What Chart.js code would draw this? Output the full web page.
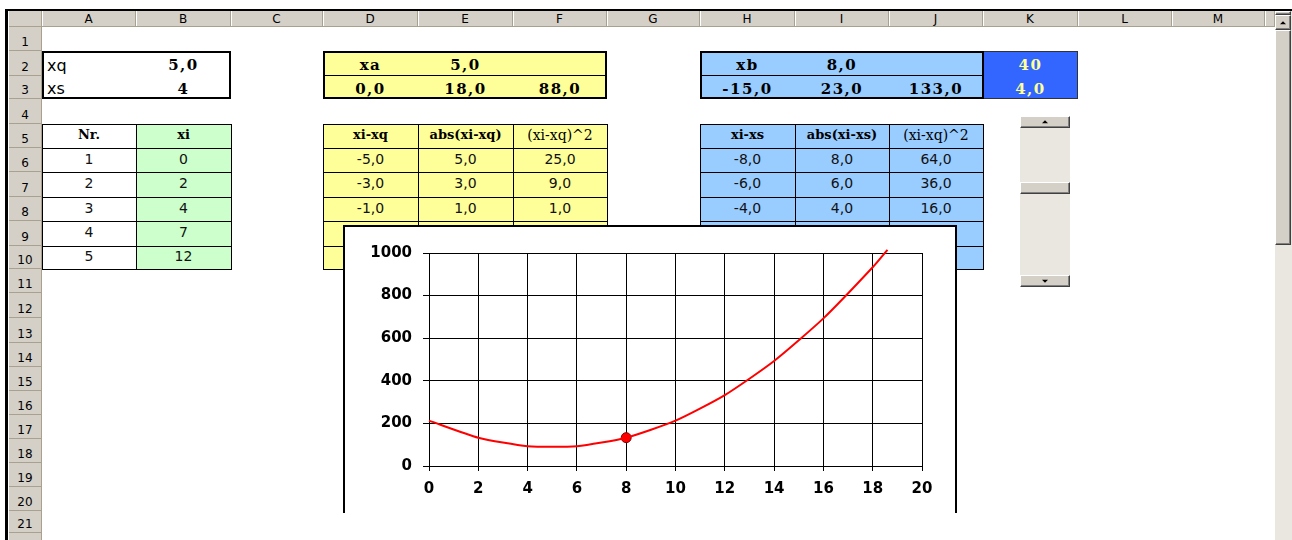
<!DOCTYPE html>
<html>
<head>
<meta charset="utf-8">
<title>xq / xs</title>
<script src="https://cdn.jsdelivr.net/npm/chart.js@4"></script>
<style>
  html, body { margin: 0; padding: 0; background: #fff; }
  body { width: 1292px; height: 540px; overflow: hidden; position: relative; }
  .abs { position: absolute; box-sizing: border-box; }
  .t { display: flex; align-items: center; justify-content: center; white-space: nowrap; color: #000; }
  .hd { background: #D4D0C8; font: 12px 'DejaVu Sans', sans-serif; color: #000; }
  .bs { font: bold 15px 'DejaVu Serif', serif; letter-spacing: 1.5px; padding-top: 3px; }
  .hs { font: bold 13px 'DejaVu Serif', serif; padding-bottom: 3px; }
  .rs { font: 14px 'DejaVu Serif', serif; padding-bottom: 3px; }
  .n  { font: 14px 'DejaVu Sans', sans-serif; color: #111; padding-bottom: 3px; }
  .raised { background: #D4D0C8; border-top: 1px solid #fff; border-left: 1px solid #fff;
            border-right: 1px solid #404040; border-bottom: 1px solid #404040;
            box-shadow: inset -1px -1px #808080; }
  .up, .down { position: absolute; left: 50%; top: 50%; width: 0; height: 0;
               border-left: 3px solid transparent; border-right: 3px solid transparent; }
  .up { border-bottom: 3px solid #000; transform: translate(-50%, -60%); }
  .down { border-top: 3px solid #000; transform: translate(-50%, -40%); }
</style>
</head>
<body>
<div id="sheet"></div>
<script>
// chart values
const xTicks = [0, 2, 4, 6, 8, 10, 12, 14, 16, 18, 20];
const yTicks = [0, 200, 400, 600, 800, 1000];
const sumX = [0, 2, 4, 6, 8, 10, 12, 14, 16, 18, 18.6];
const sumY = [213, 133, 93, 93, 133, 213, 333, 493, 693, 933, 1015];
const pickX = [8];
const pickY = [133];

// sheet grid
const colX = [42, 136, 231, 323, 418, 513, 607, 700, 795, 889, 983, 1078, 1172, 1265, 1275];
const rowY = [27, 51, 76, 99, 124, 148, 172, 197, 221, 246, 269, 293, 318, 343, 367, 391, 415, 439, 463, 487, 511, 533, 560];
const colNames = ['A', 'B', 'C', 'D', 'E', 'F', 'G', 'H', 'I', 'J', 'K', 'L', 'M', ''];

const sheet = document.getElementById('sheet');

function el(x, y, w, h, css, txt, cls) {
    const d = document.createElement('div');
    d.className = 'abs' + (cls ? ' ' + cls : '');
    d.style.cssText = 'left:' + x + 'px;top:' + y + 'px;width:' + w + 'px;height:' + h + 'px;' + (css || '');
    if (txt !== undefined) d.textContent = txt;
    sheet.appendChild(d);
    return d;
}

// text in cell (c, r), c = 0 for column A, r = 1 for row 1
function cell(c, r, txt, cls, css) {
    return el(colX[c], rowY[r - 1], colX[c + 1] - colX[c], rowY[r] - rowY[r - 1], css || '', txt, 't ' + cls);
}

function grid(c1, c2, r1, r2, bgs) {
    const top = rowY[r1 - 1], bottom = rowY[r2];
    for (let c = c1; c <= c2; c++) {
        el(colX[c], top, colX[c + 1] - colX[c], bottom - top, 'background:' + bgs[c - c1]);
    }
    for (let r = r1 - 1; r <= r2; r++) {
        el(colX[c1], rowY[r], colX[c2 + 1] - colX[c1] + 1, 1, 'background:#000');
    }
    for (let c = c1; c <= c2 + 1; c++) {
        el(colX[c], top, 1, bottom - top + 1, 'background:#000');
    }
}

// headers
el(9, 11, 33, 16, 'border-right:1px solid #A9A18F;border-bottom:1px solid #A9A18F', undefined, 'hd');
for (let i = 0; i < colNames.length; i++) {
    el(colX[i], 11, colX[i + 1] - colX[i], 16,
       'border-right:1px solid #A9A18F;border-bottom:1px solid #A9A18F;box-shadow:inset 1px 0 #fff',
       colNames[i], 'hd t');
}
for (let r = 1; r < rowY.length; r++) {
    el(9, rowY[r - 1], 33, rowY[r] - rowY[r - 1],
       'border-right:1px solid #A9A18F;border-bottom:1px solid #A9A18F;align-items:flex-end;padding-bottom:1px',
       String(r), 'hd t');
}
el(5, 9, 1287, 2, 'background:#000');
el(5, 9, 3, 531, 'background:#000');

// xq / xs
el(42, 51, 189, 48, 'border:2px solid #000;background:#fff');
el(47, 51, 80, 25, "font:16px 'DejaVu Sans',sans-serif;display:flex;align-items:center;padding-top:3px", 'xq');
el(47, 76, 80, 23, "font:16px 'DejaVu Sans',sans-serif;display:flex;align-items:center;padding-top:1px", 'xs');
cell(1, 2, '5,0', 'bs');
cell(1, 3, '4', 'bs');

// xa block
el(323, 51, 284, 48, 'border:2px solid #000;background:#FFFF99');
el(323, 75, 284, 1, 'background:#000');
cell(3, 2, 'xa', 'bs');
cell(4, 2, '5,0', 'bs');
cell(3, 3, '0,0', 'bs');
cell(4, 3, '18,0', 'bs');
cell(5, 3, '88,0', 'bs');

// xb block
el(983, 51, 95, 48, 'background:#3366FF;border:1px solid #333');
el(700, 51, 284, 48, 'border:2px solid #000;background:#99CCFF');
el(700, 75, 284, 1, 'background:#000');
cell(7, 2, 'xb', 'bs');
cell(8, 2, '8,0', 'bs');
cell(7, 3, '-15,0', 'bs');
cell(8, 3, '23,0', 'bs');
cell(9, 3, '133,0', 'bs');
cell(10, 2, '40', 'bs', 'color:#FFFF99');
cell(10, 3, '4,0', 'bs', 'color:#FFFF99');

// Nr. / xi
grid(0, 1, 5, 10, ['#fff', '#CCFFCC']);
cell(0, 5, 'Nr.', 'hs');
cell(1, 5, 'xi', 'hs');
[['1', '0'], ['2', '2'], ['3', '4'], ['4', '7'], ['5', '12']].forEach(function (p, i) {
    cell(0, 6 + i, p[0], 'n');
    cell(1, 6 + i, p[1], 'n');
});

// xi-xq
grid(3, 5, 5, 10, ['#FFFF99', '#FFFF99', '#FFFF99']);
cell(3, 5, 'xi-xq', 'hs');
cell(4, 5, 'abs(xi-xq)', 'hs');
cell(5, 5, '(xi-xq)^2', 'rs');
[['-5,0', '5,0', '25,0'], ['-3,0', '3,0', '9,0'], ['-1,0', '1,0', '1,0']].forEach(function (p, i) {
    p.forEach(function (v, j) { cell(3 + j, 6 + i, v, 'n'); });
});

// xi-xs
grid(7, 9, 5, 10, ['#99CCFF', '#99CCFF', '#99CCFF']);
cell(7, 5, 'xi-xs', 'hs');
cell(8, 5, 'abs(xi-xs)', 'hs');
cell(9, 5, '(xi-xq)^2', 'rs');
[['-8,0', '8,0', '64,0'], ['-6,0', '6,0', '36,0'], ['-4,0', '4,0', '16,0']].forEach(function (p, i) {
    p.forEach(function (v, j) { cell(7 + j, 6 + i, v, 'n'); });
});

// spinner
el(1020, 116, 50, 171, 'background:#EAE7E0');
el(1020, 116, 50, 12, '', undefined, 'raised').innerHTML = '<span class="up"></span>';
el(1020, 182, 50, 12, '', undefined, 'raised');
el(1020, 275, 50, 12, '', undefined, 'raised').innerHTML = '<span class="down"></span>';

// window scrollbar
el(1275, 11, 17, 529, 'background:#EAE7E0');
el(1275, 11, 16, 4, '', undefined, 'raised');
el(1275, 15, 16, 15, '', undefined, 'raised').innerHTML = '<span class="up"></span>';
el(1275, 30, 16, 215, '', undefined, 'raised');

// chart object
const box = el(343, 225, 614, 288, 'background:#fff;border:2px solid #000;border-bottom:none');
const canvas = document.createElement('canvas');
canvas.width = 610;
canvas.height = 286;
canvas.style.display = 'block';
box.appendChild(canvas);

const tickFont = { family: "'DejaVu Sans', sans-serif", size: 15, weight: 'bold' };
const plain = function (v) { return String(v); };

new Chart(canvas.getContext('2d'), {
    type: 'scatter',
    data: {
        datasets: [
            {
                data: sumX.map(function (x, i) { return { x: x, y: sumY[i] }; }),
                showLine: true,
                borderColor: '#FF0000',
                borderWidth: 2,
                pointRadius: 0,
                tension: 0.2,
                clip: false
            },
            {
                data: pickX.map(function (x, i) { return { x: x, y: pickY[i] }; }),
                showLine: false,
                pointRadius: 5,
                pointBackgroundColor: '#FF0000',
                pointBorderColor: '#800000',
                pointBorderWidth: 1
            }
        ]
    },
    options: {
        responsive: false,
        animation: false,
        events: [],
        layout: { padding: { top: 26, right: 33, left: 0, bottom: 0 } },
        plugins: { legend: { display: false }, tooltip: { enabled: false } },
        scales: {
            x: {
                type: 'linear',
                min: 0,
                max: 20,
                afterBuildTicks: function (s) { s.ticks = xTicks.map(function (v) { return { value: v }; }); },
                afterFit: function (s) { s.height = 47; },
                ticks: { font: tickFont, color: '#000', padding: 9, maxRotation: 0, autoSkip: false, callback: plain },
                grid: { color: '#000', lineWidth: 1, tickLength: 5 },
                border: { color: '#000', width: 1 }
            },
            y: {
                min: 0,
                max: 1000,
                afterBuildTicks: function (s) { s.ticks = yTicks.map(function (v) { return { value: v }; }); },
                afterFit: function (s) { s.width = 84; },
                ticks: { font: tickFont, color: '#000', padding: 11, autoSkip: false, callback: plain },
                grid: { color: '#000', lineWidth: 1, tickLength: 6 },
                border: { color: '#000', width: 1 }
            }
        }
    }
});
</script>
</body>
</html>
